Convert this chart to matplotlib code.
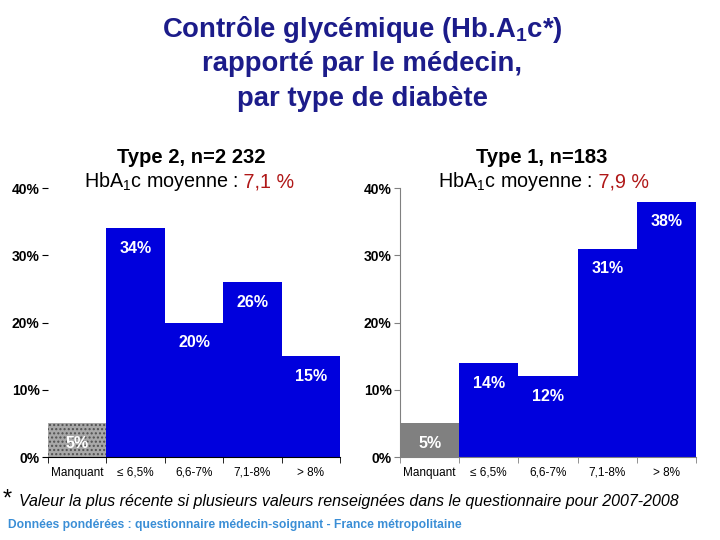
import matplotlib
matplotlib.use("Agg")
import matplotlib.pyplot as plt
import numpy as np

plt.rcParams["font.family"] = ["Liberation Sans", "DejaVu Sans"]
plt.rcParams["hatch.color"] = "#505050"
plt.rcParams["hatch.linewidth"] = 1.0

categories = ["Manquant", "≤ 6,5%", "6,6-7%", "7,1-8%", "> 8%"]
type2_values = [5, 34, 20, 26, 15]
type1_values = [5, 14, 12, 31, 38]
yticks = [0, 10, 20, 30, 40]
ytick_labels = ["0%", "10%", "20%", "30%", "40%"]

BLUE = "#0000DD"
TITLE_COLOR = "#1C1C8A"
RED = "#B01818"

fig = plt.figure(figsize=(7.2, 5.4), dpi=100)

fig.text(0.503, 0.946, "Contrôle glycémique (Hb.A$_\\mathregular{1}$c*)",
         ha="center", va="center", fontsize=19.8, fontweight="bold", color=TITLE_COLOR)
fig.text(0.503, 0.881, "rapporté par le médecin,",
         ha="center", va="center", fontsize=19.8, fontweight="bold", color=TITLE_COLOR)
fig.text(0.503, 0.816, "par type de diabète",
         ha="center", va="center", fontsize=19.8, fontweight="bold", color=TITLE_COLOR)


def draw_panel(rect, values, manquant_style, spine_color, left_spine):
    ax = fig.add_axes(rect)
    x = np.arange(len(values))
    bars = ax.bar(x, values, width=1.0, color=BLUE, linewidth=0, align="edge")
    if manquant_style == "hatch":
        bars[0].set_facecolor("#a8a8a8")
        bars[0].set_hatch("....")
        bars[0].set_edgecolor("#505050")
    else:
        bars[0].set_facecolor("#808080")
    for xi, v in zip(x, values):
        ax.text(xi + 0.5, v - 3, f"{v}%", ha="center", va="center",
                color="white", fontsize=11.5, fontweight="bold")
    ax.set_xlim(0, len(values))
    ax.set_ylim(0, 40)
    ax.set_yticks(yticks)
    ax.set_yticklabels(ytick_labels, fontsize=10, fontweight="bold")
    ax.set_xticks(x + 0.5)
    ax.set_xticklabels(categories, fontsize=8.5)
    ax.tick_params(axis="x", length=0, pad=7)
    ax.set_xticks(np.arange(len(values) + 1), minor=True)
    ax.tick_params(axis="x", which="minor", length=4, color=spine_color)
    ax.tick_params(axis="y", length=4, color=spine_color, pad=2)
    for s in ["top", "right"]:
        ax.spines[s].set_visible(False)
    ax.spines["left"].set_visible(left_spine)
    ax.spines["left"].set_color(spine_color)
    ax.spines["bottom"].set_color(spine_color)
    return ax


draw_panel([0.0667, 0.1537, 0.4056, 0.498], type2_values, "hatch", "black", False)
draw_panel([0.5556, 0.1537, 0.411, 0.498], type1_values, "solid", "#808080", True)

# panel subtitles
fig.text(0.266, 0.709, "Type 2, n=2 232", ha="center", va="center",
         fontsize=14.5, fontweight="bold")
fig.text(0.331, 0.663, "HbA$_\\mathregular{1}$c moyenne :", ha="right", va="center",
         fontsize=14.2)
fig.text(0.331, 0.663, " 7,1 %", ha="left", va="center", fontsize=14.2, color=RED)

fig.text(0.752, 0.709, "Type 1, n=183", ha="center", va="center",
         fontsize=14.5, fontweight="bold")
fig.text(0.823, 0.663, "HbA$_\\mathregular{1}$c moyenne :", ha="right", va="center",
         fontsize=14.2)
fig.text(0.823, 0.663, " 7,9 %", ha="left", va="center", fontsize=14.2, color=RED)

# footnotes
fig.text(0.004, 0.075, "*", ha="left", va="center", fontsize=17)
fig.text(0.027, 0.071,
         "Valeur la plus récente si plusieurs valeurs renseignées dans le questionnaire pour 2007-2008",
         ha="left", va="center", fontsize=11.5, fontstyle="italic")
fig.text(0.011, 0.027,
         "Données pondérées : questionnaire médecin-soignant - France métropolitaine",
         ha="left", va="center", fontsize=8.7, fontweight="bold", color="#3A8ED6")

fig.savefig("out.png", dpi=100)
